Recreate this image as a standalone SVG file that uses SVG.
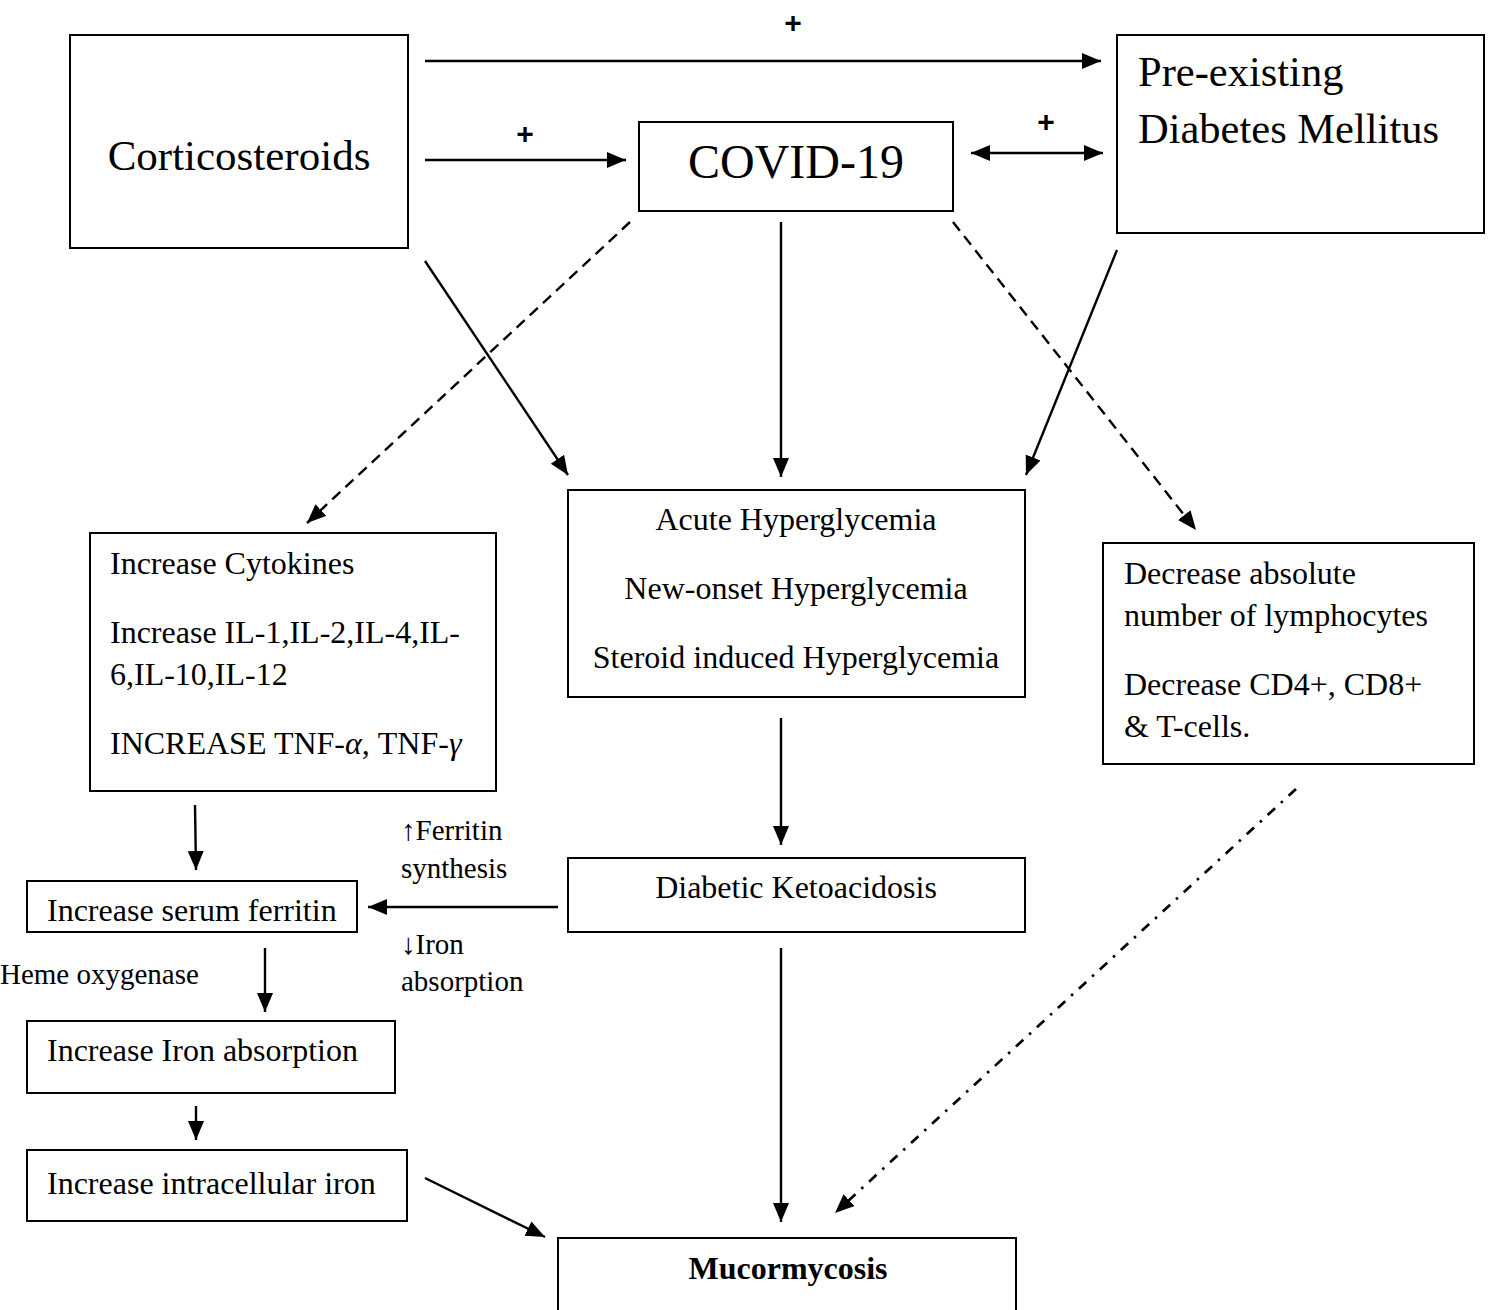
<svg xmlns="http://www.w3.org/2000/svg" width="1491" height="1310" viewBox="0 0 1491 1310">
<style>
.box{fill:#fff;stroke:#000;stroke-width:2}
.t{font-family:"Liberation Serif","Times New Roman",serif;font-size:32px;fill:#000}
.lbl{font-family:"Liberation Serif","Times New Roman",serif;font-size:29px;fill:#000}
.big{font-family:"Liberation Serif","Times New Roman",serif;font-size:42.5px;fill:#000}
.plus{font-family:"Liberation Sans",Arial,sans-serif;font-size:30px;font-weight:bold;fill:#000}
.c{text-anchor:middle}
.ln{stroke:#000;stroke-width:2.4;fill:none;marker-end:url(#ah)}
.dash{stroke-dasharray:11 7}
.dd{stroke-dasharray:10 8 2.5 8;stroke-width:2.7}
</style>
<defs>
<marker id="ah" markerUnits="userSpaceOnUse" markerWidth="22" markerHeight="18" refX="19" refY="8" orient="auto-start-reverse">
<path d="M0,0 L19,8 L0,16 Z" fill="#000"/>
</marker>
</defs>
<rect width="1491" height="1310" fill="#fff"/>
<g id="connectors">
<line class="ln" x1="425" y1="61" x2="1101" y2="61"/>
<line class="ln" x1="425" y1="160" x2="626" y2="160"/>
<line class="ln" x1="971" y1="153" x2="1103" y2="153" style="marker-start:url(#ah)"/>
<line class="ln" x1="425" y1="261" x2="568" y2="475"/>
<line class="ln" x1="781" y1="222" x2="781" y2="477"/>
<line class="ln" x1="1117" y1="250" x2="1026" y2="475"/>
<line class="ln dash" x1="630" y1="222" x2="307" y2="523"/>
<line class="ln dash" x1="953" y1="222" x2="1196" y2="530"/>
<line class="ln" x1="781" y1="718" x2="781" y2="845"/>
<line class="ln" x1="558" y1="907" x2="368" y2="907"/>
<line class="ln" x1="195" y1="805" x2="196" y2="870"/>
<line class="ln" x1="265" y1="948" x2="265" y2="1012"/>
<line class="ln" x1="196" y1="1106" x2="196" y2="1140"/>
<line class="ln" x1="425" y1="1178" x2="545" y2="1237"/>
<line class="ln" x1="781" y1="948" x2="781" y2="1222"/>
<line class="ln dd" x1="1296" y1="789" x2="835" y2="1213"/>
<text class="plus c" x="793" y="33">+</text>
<text class="plus c" x="525" y="144">+</text>
<text class="plus c" x="1046" y="132">+</text>
<text class="lbl" x="401" y="840">↑Ferritin</text>
<text class="lbl" x="401" y="878">synthesis</text>
<text class="lbl" x="401" y="954">↓Iron</text>
<text class="lbl" x="401" y="991">absorption</text>
<text class="lbl" x="0" y="984">Heme oxygenase</text>
</g>
<g id="corticosteroids">
<rect class="box" x="70" y="35" width="338" height="213"/>
<text class="big c" x="239" y="170" style="font-size:43px">Corticosteroids</text>
</g>
<g id="diabetes">
<rect class="box" x="1117" y="35" width="367" height="198"/>
<text class="big" x="1138" y="86">Pre-existing</text>
<text class="big" x="1138" y="143">Diabetes Mellitus</text>
</g>
<g id="covid">
<rect class="box" x="639" y="122" width="314" height="89"/>
<text class="big c" x="796" y="178" style="font-size:48px">COVID-19</text>
</g>
<g id="hyperglycemia">
<rect class="box" x="568" y="490" width="457" height="207"/>
<text class="t c" x="796" y="530">Acute Hyperglycemia</text>
<text class="t c" x="796" y="599">New-onset Hyperglycemia</text>
<text class="t c" x="796" y="668">Steroid induced Hyperglycemia</text>
</g>
<g id="cytokines">
<rect class="box" x="90" y="533" width="406" height="258"/>
<text class="t" x="110" y="574">Increase Cytokines</text>
<text class="t" x="110" y="643">Increase IL-1,IL-2,IL-4,IL-</text>
<text class="t" x="110" y="685">6,IL-10,IL-12</text>
<text class="t" x="110" y="754">INCREASE TNF-<tspan font-style="italic">α</tspan>, TNF-<tspan font-style="italic">γ</tspan></text>
</g>
<g id="lymphocytes">
<rect class="box" x="1103" y="543" width="371" height="221"/>
<text class="t" x="1124" y="584">Decrease absolute</text>
<text class="t" x="1124" y="626">number of lymphocytes</text>
<text class="t" x="1124" y="695">Decrease CD4+, CD8+</text>
<text class="t" x="1124" y="737">&amp; T-cells.</text>
</g>
<g id="dka">
<rect class="box" x="568" y="858" width="457" height="74"/>
<text class="t c" x="796" y="898">Diabetic Ketoacidosis</text>
</g>
<g id="ferritin">
<rect class="box" x="27" y="881" width="330" height="51"/>
<text class="t" x="47" y="921">Increase serum ferritin</text>
</g>
<g id="ironabs">
<rect class="box" x="27" y="1021" width="368" height="72"/>
<text class="t" x="47" y="1061">Increase Iron absorption</text>
</g>
<g id="intracellular">
<rect class="box" x="27" y="1150" width="380" height="71"/>
<text class="t" x="47" y="1194">Increase intracellular iron</text>
</g>
<g id="mucormycosis">
<rect class="box" x="558" y="1238" width="458" height="100"/>
<text class="t c" x="788" y="1279" font-weight="bold">Mucormycosis</text>
</g>
</svg>
